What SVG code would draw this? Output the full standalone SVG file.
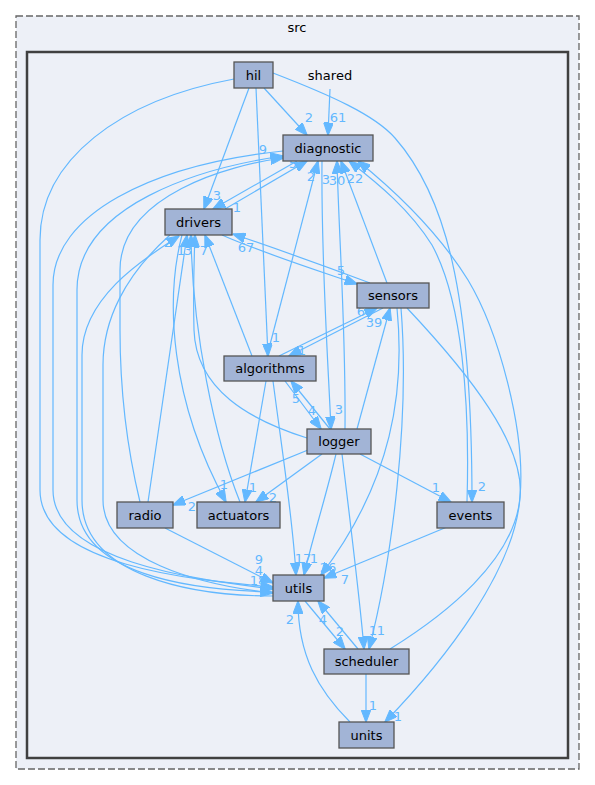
<svg xmlns="http://www.w3.org/2000/svg" width="595" height="785" viewBox="0 0 595 785">
<style>
.nd rect{fill:#a2b4d6;stroke:#555;stroke-width:1.3}
.nd text,.ct{font-family:"DejaVu Sans",sans-serif;font-size:13px;fill:#000;text-anchor:middle}
.e path{fill:none;stroke:#63b8ff;stroke-width:1.2;marker-end:url(#ah)}
.e text{font-family:"DejaVu Sans",sans-serif;font-size:13px;fill:#63b8ff;text-anchor:middle}
</style>
<defs>
<marker id="ah" viewBox="0 0 13 10" refX="12.5" refY="5" markerWidth="13" markerHeight="10" markerUnits="userSpaceOnUse" orient="auto">
<path d="M0,0 L13,5 L0,10 z" fill="#63b8ff" stroke="#63b8ff" stroke-width="1"/>
</marker>
</defs>
<rect width="595" height="785" fill="#ffffff"/>
<g id="cluster-src">
<rect x="16" y="16" width="563" height="753" fill="#edf0f7" stroke="#666" stroke-width="1.3" stroke-dasharray="7,3"/>
<text class="ct" x="297" y="32">src</text>
</g>
<g id="cluster-shared">
<rect x="27" y="52" width="541" height="706" fill="#edf0f7" stroke="#404040" stroke-width="2.5"/>
</g>
<g id="edges">
<g class="e"><path d="M264,88 L307,135"/><text x="309" y="122">2</text></g>
<g class="e"><path d="M330,89 L328,135"/><text x="338" y="122">61</text></g>
<g class="e"><path d="M249,88 L204,209"/><text x="217" y="200">3</text></g>
<g class="e"><path d="M256,88 L268,356"/><text x="276" y="342">1</text></g>
<g class="e"><path d="M273,73 C330,95 375,115 395,138 C445,195 472,290 472,502"/><text x="482" y="491">2</text></g>
<g class="e"><path d="M234,79 C120,100 40,160 40,240 L40,490 C40,565 190,580 273,587"/></g>
<g class="e"><path d="M283,151 C150,165 53,215 53,285 L53,490 C53,560 190,579 273,589"/></g>
<g class="e"><path d="M273,592 C190,590 77,575 77,500 L77,290 C77,205 200,168 283,156"/><text x="263" y="154">9</text></g>
<g class="e"><path d="M170,235 C125,275 103,320 103,365 L103,500 C103,560 200,585 273,593"/></g>
<g class="e"><path d="M273,596 C190,596 82,575 82,500 L82,355 C82,295 150,255 179,236"/><text x="168" y="247">2</text></g>
<g class="e"><path d="M140,502 C125,440 120,380 120,330 L120,270 C120,195 230,165 283,158"/></g>
<g class="e"><path d="M148,502 L187,235"/></g>
<g class="e"><path d="M165,528 L273,583"/><text x="259" y="564">9</text></g>
<g class="e"><path d="M225,209 L307,161"/><text x="293" y="168">5</text></g>
<g class="e"><path d="M297,161 L213,209"/><text x="237" y="212">1</text></g>
<g class="e"><path d="M370,283 C330,268 280,250 233,234"/><text x="246" y="252">67</text></g>
<g class="e"><path d="M222,235 C260,252 310,268 357,284"/><text x="341" y="275">5</text></g>
<g class="e"><path d="M383,308 L289,356"/><text x="302" y="355">1</text></g>
<g class="e"><path d="M279,356 L377,308"/><text x="361" y="316">6</text></g>
<g class="e"><path d="M357,429 L390,308"/><text x="374" y="327">39</text></g>
<g class="e"><path d="M267,356 L318,161"/><text x="311" y="181">2</text></g>
<g class="e"><path d="M345,429 C346,330 339,240 337,161"/><text x="337" y="185">30</text></g>
<g class="e"><path d="M322,161 C321,260 328,360 331,429"/><text x="339" y="414">3</text></g>
<g class="e"><path d="M387,283 L341,161"/><text x="326" y="184">3</text></g>
<g class="e"><path d="M467,502 C470,400 462,300 432,245 C410,210 380,185 349,161"/><text x="355" y="183">22</text></g>
<g class="e"><path d="M390,649 C445,615 515,560 520,497 C526,430 498,330 468,280 C440,235 400,195 358,161"/></g>
<g class="e"><path d="M397,308 C405,390 393,480 321,575"/><text x="328" y="572">26</text></g>
<g class="e"><path d="M401,308 C410,420 392,560 369,649"/><text x="381" y="635">1</text></g>
<g class="e"><path d="M407,308 C470,375 525,445 520,497 C515,570 445,660 385,722"/><text x="398" y="721">1</text></g>
<g class="e"><path d="M252,356 L205,235"/><text x="204" y="255">7</text></g>
<g class="e"><path d="M273,381 C282,450 293,520 296,575"/><text x="303" y="563">17</text></g>
<g class="e"><path d="M266,381 L245,502"/><text x="253" y="492">1</text></g>
<g class="e"><path d="M285,381 L321,429"/><text x="312" y="415">4</text></g>
<g class="e"><path d="M330,429 L291,381"/><text x="296" y="403">5</text></g>
<g class="e"><path d="M307,438 C250,420 196,390 194,330 C193,290 194,260 195,235"/><text x="181" y="255">1</text></g>
<g class="e"><path d="M308,450 L173,505"/><text x="192" y="511">2</text></g>
<g class="e"><path d="M322,454 L256,502"/><text x="273" y="502">2</text></g>
<g class="e"><path d="M360,454 L451,502"/><text x="436" y="492">1</text></g>
<g class="e"><path d="M336,454 C325,500 312,540 304,575"/><text x="314" y="563">1</text></g>
<g class="e"><path d="M342,454 C350,520 360,600 364,649"/><text x="373" y="635">1</text></g>
<g class="e"><path d="M182,235 C165,300 170,400 226,502"/><text x="224" y="489">1</text></g>
<g class="e"><path d="M240,502 C215,440 192,330 191,235"/><text x="188" y="255">3</text></g>
<g class="e"><path d="M447,527 L324,578"/><text x="345" y="584">7</text></g>
<g class="e"><path d="M358,649 L318,601"/><text x="323" y="624">4</text></g>
<g class="e"><path d="M305,601 L345,649"/><text x="340" y="636">2</text></g>
<g class="e"><path d="M366,674 L366,722"/><text x="373" y="710">1</text></g>
<g class="e"><path d="M350,722 C318,690 298,655 298,601"/><text x="290" y="624">2</text></g>
<g class="e"><text x="259" y="575">4</text><text x="258" y="585">18</text></g>
</g>
<g id="node-hil" class="nd"><rect x="234" y="62" width="39" height="26"/><text x="253.5" y="79.5">hil</text></g>
<g id="node-shared" class="nd"><text x="330" y="79.5">shared</text></g>
<g id="node-diagnostic" class="nd"><rect x="283" y="135" width="90" height="26"/><text x="328" y="152.5">diagnostic</text></g>
<g id="node-drivers" class="nd"><rect x="165" y="209" width="67" height="26"/><text x="198.5" y="226.5">drivers</text></g>
<g id="node-sensors" class="nd"><rect x="357" y="283" width="72" height="25"/><text x="393" y="300">sensors</text></g>
<g id="node-algorithms" class="nd"><rect x="224" y="356" width="92" height="25"/><text x="270" y="373">algorithms</text></g>
<g id="node-logger" class="nd"><rect x="307" y="429" width="64" height="25"/><text x="339" y="446">logger</text></g>
<g id="node-radio" class="nd"><rect x="117" y="502" width="56" height="26"/><text x="145" y="519.5">radio</text></g>
<g id="node-actuators" class="nd"><rect x="197" y="502" width="83" height="26"/><text x="238.5" y="519.5">actuators</text></g>
<g id="node-events" class="nd"><rect x="437" y="502" width="67" height="26"/><text x="470.5" y="519.5">events</text></g>
<g id="node-utils" class="nd"><rect x="273" y="575" width="51" height="26"/><text x="298.5" y="592.5">utils</text></g>
<g id="node-scheduler" class="nd"><rect x="324" y="649" width="85" height="25"/><text x="366.5" y="666">scheduler</text></g>
<g id="node-units" class="nd"><rect x="339" y="722" width="55" height="26"/><text x="366.5" y="739.5">units</text></g>
</svg>
